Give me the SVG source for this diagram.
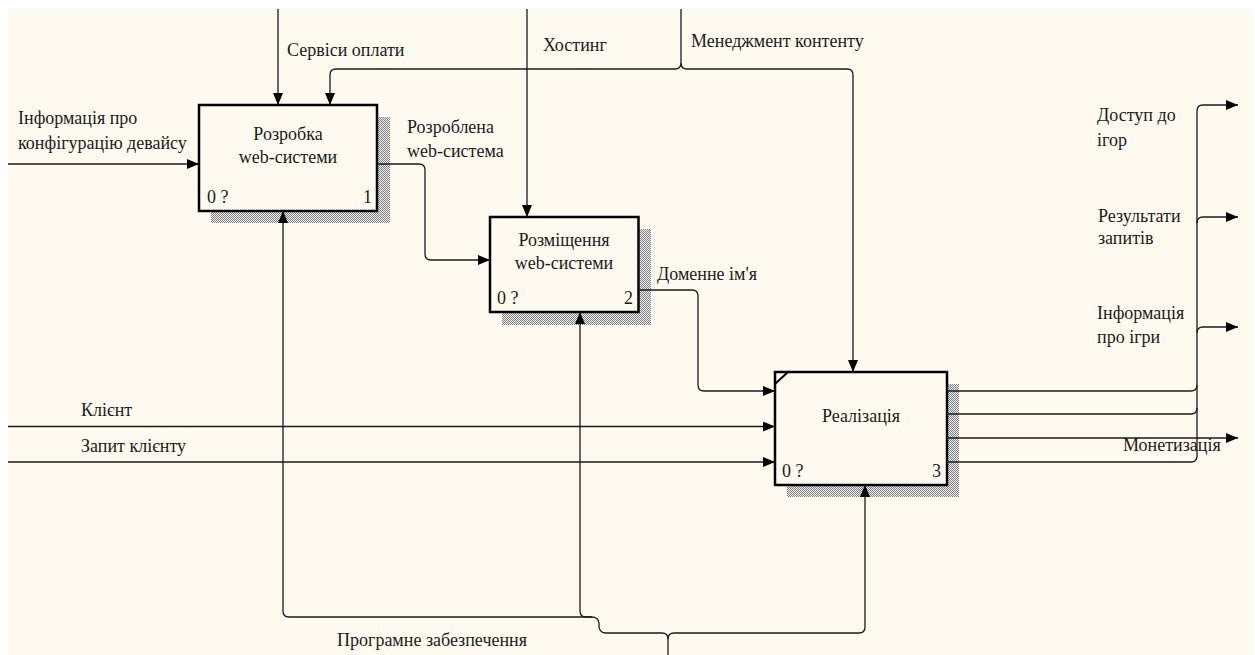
<svg xmlns="http://www.w3.org/2000/svg" width="1255" height="655" viewBox="0 0 1255 655">
  <style>
    .t { font-family: "Liberation Serif", "Times New Roman", serif; font-size: 18px; fill: #1a1a1a; }
    .c { text-anchor: middle; }
    .e { text-anchor: end; }
    .box { fill: #fffaf0; stroke: #000; stroke-width: 2.5; }
    .sh { fill: url(#hatch); }
    .ln { fill: none; stroke: #1a1a1a; stroke-width: 1.3; }
    .ar { marker-end: url(#arr); }
  </style>
  <defs>
    <pattern id="hatch" width="2" height="2" patternUnits="userSpaceOnUse">
      <rect width="2" height="2" fill="#f2f2f2"/>
      <rect width="1" height="1" fill="#808080"/>
      <rect x="1" y="1" width="1" height="1" fill="#808080"/>
    </pattern>
    <marker id="arr" markerUnits="userSpaceOnUse" markerWidth="12" markerHeight="10" refX="12" refY="5" orient="auto">
      <path d="M0,0 L12,5 L0,10 z" fill="#000"/>
    </marker>
  </defs>

  <!-- sheet -->
  <rect width="1255" height="655" fill="#fff"/>
  <rect x="8" y="9" width="1244" height="646" fill="#fffaf0"/>

  <!-- activity boxes -->
  <g id="node-a1">
    <rect class="sh" x="211" y="117" width="179" height="106"/>
    <rect class="box" x="199" y="105" width="178" height="106"/>
    <text class="t c" x="288" y="140">Розробка</text>
    <text class="t c" x="288" y="163">web-системи</text>
    <text class="t" x="207" y="203">0 ?</text>
    <text class="t e" x="372" y="203">1</text>
  </g>
  <g id="node-a2">
    <rect class="sh" x="502" y="229" width="149" height="96"/>
    <rect class="box" x="490" y="217" width="148.5" height="95"/>
    <text class="t c" x="564" y="246">Розміщення</text>
    <text class="t c" x="564" y="269">web-системи</text>
    <text class="t" x="497" y="304">0 ?</text>
    <text class="t e" x="633" y="304">2</text>
  </g>
  <g id="node-a3">
    <rect class="sh" x="787" y="384" width="172" height="113"/>
    <rect class="box" x="775" y="372" width="172" height="113"/>
    <line x1="775" y1="384" x2="788" y2="372" stroke="#000" stroke-width="2"/>
    <text class="t c" x="861" y="422">Реалізація</text>
    <text class="t" x="782" y="477">0 ?</text>
    <text class="t e" x="941" y="477">3</text>
  </g>

  <!-- arrows -->
  <g id="connectors">
    <!-- controls from the top -->
    <path class="ln ar" d="M278,9 V105"/>
    <path class="ln" d="M681,9 V63"/>
    <path class="ln ar" d="M681,63 Q681,69 675,69 H336 Q330,69 330,75 V105"/>
    <path class="ln ar" d="M681,63 Q681,69 687,69 H847 Q853,69 853,75 V372"/>
    <path class="ln ar" d="M527,9 V217"/>

    <!-- inputs from the left -->
    <path class="ln ar" d="M8,164 H199"/>
    <path class="ln ar" d="M8,426.5 H775"/>
    <path class="ln ar" d="M8,462 H775"/>

    <!-- box to box -->
    <path class="ln ar" d="M378,164 H419 Q425,164 425,170 V254 Q425,260 431,260 H490"/>
    <path class="ln ar" d="M639,290 H692 Q698,290 698,296 V385 Q698,391 704,391 H775"/>

    <!-- outputs to the right -->
    <path class="ln ar" d="M947,391 H1191 Q1197,391 1197,385 V111 Q1197,105 1203,105 H1238"/>
    <path class="ln" d="M947,414 H1191 Q1197,414 1197,408"/>
    <path class="ln" d="M947,462 H1191 Q1197,462 1197,456 V385"/>
    <path class="ln ar" d="M1197,223 Q1197,217 1203,217 H1238"/>
    <path class="ln ar" d="M1197,333 Q1197,327 1203,327 H1238"/>
    <path class="ln ar" d="M947,438 H1238"/>

    <!-- mechanism from the bottom -->
    <path class="ln" d="M668,655 V639"/>
    <path class="ln ar" d="M668,639 Q668,633 662,633 H606 Q600,633 599,627 V623 Q598,617 592,617 H289 Q283,617 283,611 V211"/>
    <path class="ln ar" d="M592,617 H586 Q580,617 580,611 V312"/>
    <path class="ln ar" d="M668,639 Q668,633 674,633 H859 Q865,633 865,627 V485"/>
  </g>

  <!-- arrow labels -->
  <g id="labels">
    <text class="t" x="287" y="56">Сервіси оплати</text>
    <text class="t" x="543" y="51">Хостинг</text>
    <text class="t" x="691" y="47">Менеджмент контенту</text>
    <text class="t" x="18" y="124">Інформація про</text>
    <text class="t" x="18" y="149">конфігурацію девайсу</text>
    <text class="t" x="407" y="133">Розроблена</text>
    <text class="t" x="407" y="157">web-система</text>
    <text class="t" x="657" y="280">Доменне ім'я</text>
    <text class="t" x="81" y="416">Клієнт</text>
    <text class="t" x="81" y="452">Запит клієнту</text>
    <text class="t" x="1097" y="121">Доступ до</text>
    <text class="t" x="1097" y="146">ігор</text>
    <text class="t" x="1098" y="222">Результати</text>
    <text class="t" x="1098" y="244">запитів</text>
    <text class="t" x="1097" y="319">Інформація</text>
    <text class="t" x="1097" y="343">про ігри</text>
    <text class="t" x="1123" y="451">Монетизація</text>
    <text class="t" x="337" y="646">Програмне забезпечення</text>
  </g>
</svg>
